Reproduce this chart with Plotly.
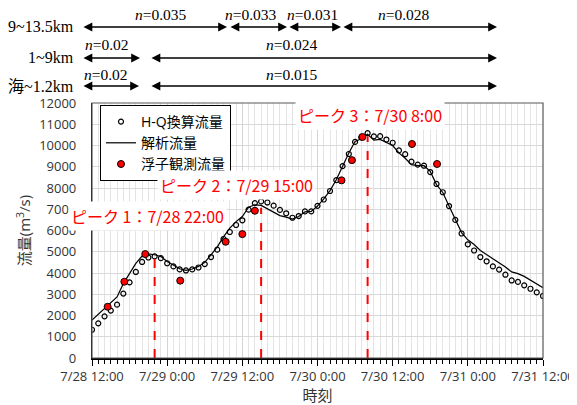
import pandas as pd
import plotly.graph_objects as go

# ---------------- data ----------------
hq_start = "2020-07-28 12:00"
hq_flow = [1330, 1630, 1960, 2230, 2510, 3030, 3560, 4050, 4520, 4730,
           4780, 4700, 4460, 4310, 4170, 4120, 4170, 4260, 4420, 4750,
           5100, 5600, 5930, 6260, 6480, 6980, 7290, 7370, 7320, 7170,
           6970, 6810, 6600, 6680, 6900, 6900, 7160, 7460, 7860, 8370,
           9030, 9600, 10170, 10390, 10580, 10430, 10440, 10280, 10130, 9770,
           9590, 9240, 9100, 9050, 8750, 8190, 7800, 7150, 6500, 5860,
           5350, 5060, 4750, 4550, 4310, 4160, 3920, 3650, 3580, 3420,
           3260, 3090, 2920]
sim_flow = [1780, 2060, 2340, 2610, 2870, 3500, 4000, 4450, 4800, 4900,
            4860, 4780, 4540, 4380, 4200, 4120, 4190, 4310, 4500, 4850,
            5230, 5700, 6110, 6420, 6660, 7100, 7210, 7180, 7010, 6850,
            6700, 6630, 6540, 6660, 6880, 6900, 7150, 7490, 7880, 8390,
            9020, 9650, 10190, 10320, 10530, 10250, 10290, 10150, 10000, 9650,
            9400, 9100, 9050, 9050, 8780, 8160, 7790, 7150, 6520, 5900,
            5560, 5340, 5060, 4860, 4660, 4500, 4280, 4050, 3970, 3840,
            3650, 3490, 3310]
float_time = ["2020-07-28 14:30", "2020-07-28 17:10", "2020-07-28 20:30",
              "2020-07-29 02:05", "2020-07-29 09:20", "2020-07-29 12:00",
              "2020-07-29 14:00", "2020-07-30 03:50", "2020-07-30 05:30",
              "2020-07-30 07:10", "2020-07-30 15:05", "2020-07-30 19:05"]
float_flow = [2410, 3590, 4890, 3640, 5470, 5830, 6930, 8360, 9310, 10400,
              10070, 9130]

peak_time = ["2020-07-28 22:00", "2020-07-29 15:00", "2020-07-30 08:00"]
peak_flow = [4860, 7070, 10430]
peak_text = ["ピーク 1：7/28 22:00", "ピーク 2：7/29 15:00", "ピーク 3：7/30 8:00"]
peak_label_time = ["2020-07-28 20:56", "2020-07-29 11:06", "2020-07-30 08:24"]
peak_label_flow = [6700, 8150, 11450]

tick_vals = ["2020-07-28 12:00", "2020-07-29 00:00", "2020-07-29 12:00",
             "2020-07-30 00:00", "2020-07-30 12:00", "2020-07-31 00:00",
             "2020-07-31 12:00"]
tick_text = ["7/28 12:00", "7/29 0:00", "7/29 12:00", "7/30 0:00",
             "7/30 12:00", "7/31 0:00", "7/31 12:00"]

# Manning's n sections (rows above plot)
row_names = ["9~13.5km", "1~9km", "海~1.2km"]
row_sections = [
    [(82, 227, "0.035", 161), (229, 287, "0.033", 251), (288, 341, "0.031", 312), (342, 497, "0.028", 404)],
    [(82, 140, "0.02", 107), (150, 497, "0.024", 292)],
    [(82, 139, "0.02", 106), (150, 497, "0.015", 292)],
]
row_arrow_y = [27, 58, 86]
row_label_y = [15, 45, 75]

# ---------------- layout constants (screen pixels) ----------------
OFF = 8                      # page body margin of the html page
W, H = 577 - OFF, 405 - OFF
PL, PR, PT, PB = 92, 543, 103, 358   # plot area on screen
ML, MT = PL - OFF, PT - OFF
MR = W - ML - (PR - PL)
MB = H - MT - (PB - PT)
PW, PH = PR - PL, PB - PT

def px_x(p):
    return (p - PL) / PW

def px_y(p):
    return (PB - p) / PH

FONT = "'Open Sans', 'Noto Sans CJK JP', sans-serif"
CJK = "'Noto Sans CJK JP', 'Open Sans', sans-serif"
SERIF = "'Liberation Serif', 'Times New Roman', 'Noto Sans CJK JP', serif"

hq_time = pd.date_range(hq_start, periods=len(hq_flow), freq="h")

fig = go.Figure()
fig.add_trace(go.Scatter(
    x=hq_time, y=hq_flow, mode="markers", name="H-Q換算流量",
    marker=dict(symbol="circle-open", size=5, color="black", line=dict(width=1.2))))
fig.add_trace(go.Scatter(
    x=hq_time, y=sim_flow, mode="lines", name="解析流量",
    line=dict(color="black", width=1.2)))
for t, v in zip(peak_time, peak_flow):
    fig.add_trace(go.Scatter(x=[t, t], y=[0, v], mode="lines", showlegend=False,
                             line=dict(color="#FF0000", width=2, dash="dash"),
                             hoverinfo="skip"))
fig.add_trace(go.Scatter(
    x=float_time, y=float_flow, mode="markers", name="浮子観測流量",
    marker=dict(symbol="circle", size=7, color="#FF0000",
                line=dict(color="black", width=1))))

annotations = []
for txt, t, v in zip(peak_text, peak_label_time, peak_label_flow):
    annotations.append(dict(x=t, y=v, xref="x", yref="y", text=txt, showarrow=False,
                            font=dict(family=CJK, size=16, color="#FF0000"),
                            bgcolor="white", borderpad=2))

for name, secs, ya, yl in zip(row_names, row_sections, row_arrow_y, row_label_y):
    annotations.append(dict(x=px_x(76), y=px_y(ya), xref="paper", yref="paper",
                            text=name, showarrow=False, xanchor="right", yanchor="middle",
                            font=dict(family=SERIF, size=16, color="black")))
    for x0, x1, nval, xl in secs:
        annotations.append(dict(x=px_x(x1), y=px_y(ya), xref="paper", yref="paper",
                                ax=-(x1 - x0), ay=0, axref="pixel", ayref="pixel",
                                text="", showarrow=True, arrowside="end+start",
                                arrowhead=2, arrowsize=1.1, arrowwidth=1.6,
                                arrowcolor="black", standoff=0, startstandoff=0))
        annotations.append(dict(x=px_x(xl), y=px_y(yl), xref="paper", yref="paper",
                                text="<i>n</i>=" + nval, showarrow=False,
                                xanchor="center", yanchor="middle",
                                font=dict(family=SERIF, size=15.5, color="black")))

fig.update_layout(
    width=W, height=H,
    margin=dict(l=ML, r=MR, t=MT, b=MB, pad=0, autoexpand=False),
    paper_bgcolor="white", plot_bgcolor="white",
    font=dict(family=FONT, size=13, color="#333333"),
    showlegend=True,
    legend=dict(x=px_x(100), y=px_y(105), xanchor="left", yanchor="top",
                bgcolor="white", bordercolor="black", borderwidth=1,
                font=dict(family=FONT, size=14, color="black"),
                tracegroupgap=0, itemwidth=30),
    annotations=annotations,
)
fig.update_xaxes(
    type="date", automargin=False,
    range=["2020-07-28 12:00", "2020-07-31 12:00"],
    tickvals=tick_vals, ticktext=tick_text,
    ticks="outside", ticklen=6, tickcolor="black", tickwidth=1.2,
    showline=True, linecolor="black", linewidth=1.5, mirror=False,
    showgrid=True, gridcolor="#d4d4d4", gridwidth=1,
    minor=dict(dtick=3600000, tick0="2020-07-28 12:00", ticks="outside", ticklen=4,
               tickcolor="black", showgrid=True, gridcolor="#e4e4e4", gridwidth=1),
    tickfont=dict(size=13, color="#333333"),
    title=dict(text="時刻", font=dict(size=15, color="#333333"), standoff=4),
    zeroline=False,
)
fig.update_yaxes(
    automargin=False,
    range=[0, 12000], dtick=1000, tickformat="d",
    showline=True, linecolor="black", linewidth=1.2,
    showgrid=True, gridcolor="#d9d9d9", gridwidth=1,
    ticks="", ticklabelstandoff=12,
    tickfont=dict(size=13, color="#333333"),
    title=dict(text="流量(m<sup>3</sup>/s)", font=dict(size=15, color="#333333"), standoff=4),
    zeroline=False,
)
# frame on top/right
fig.add_shape(type="rect", xref="paper", yref="paper", x0=0, y0=0, x1=1, y1=1,
              line=dict(color="#595959", width=1.2), layer="above")

fig.write_html("out.html")
